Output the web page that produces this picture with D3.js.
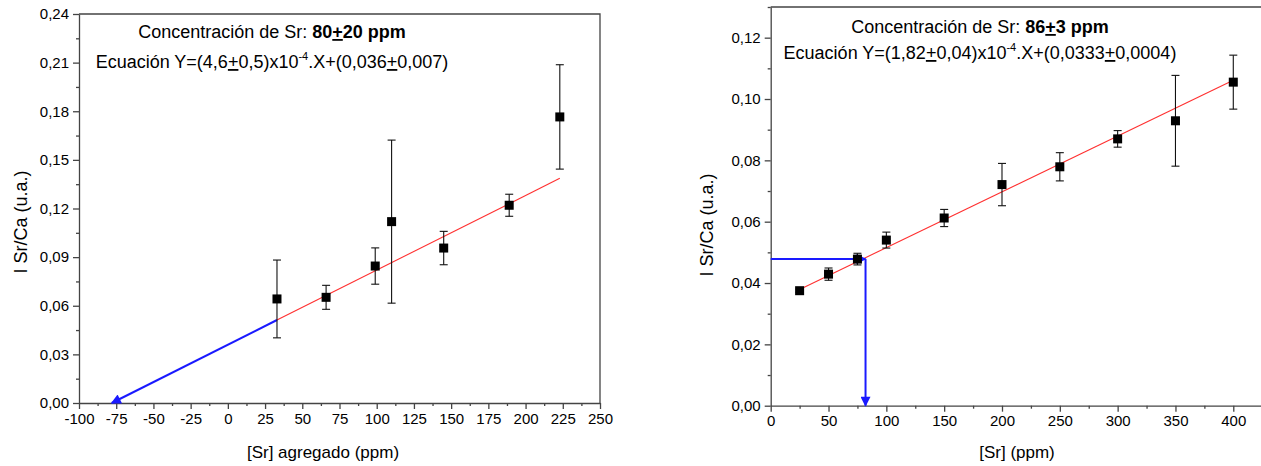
<!DOCTYPE html>
<html>
<head>
<meta charset="utf-8">
<script src="https://cdn.jsdelivr.net/npm/d3@7"></script>
<style>
  body { margin: 0; background: #fff; }
  svg { font-family: "Liberation Sans", Arial, sans-serif; }
  .axis path, .axis line { stroke: #444; stroke-width: 1.3; }
  .axis text { font-size: 15px; fill: #000; }
</style>
</head>
<body>
<svg id="chart" width="1261" height="466"></svg>
<script>
// left panel: standard additions
const leftX = [33, 66, 99, 110, 145, 189, 223];
const leftY = [0.0642, 0.0652, 0.0845, 0.1119, 0.0956, 0.1220, 0.1765];
const leftErr = [0.024, 0.0074, 0.0112, 0.0503, 0.0103, 0.0068, 0.0322];
const leftFit = [[33, 0.0512], [223, 0.1386]];
const leftArrow = [[33, 0.0512], [-78, 0]];
const leftXTicks = [-100, -75, -50, -25, 0, 25, 50, 75, 100, 125, 150, 175, 200, 225, 250];
const leftYTicks = [0, 0.03, 0.06, 0.09, 0.12, 0.15, 0.18, 0.21, 0.24];

// right panel: calibration curve
const rightX = [25, 50, 75, 100, 150, 200, 250, 300, 350, 400];
const rightY = [0.0375, 0.0429, 0.0478, 0.0540, 0.0612, 0.0721, 0.0779, 0.0870, 0.0929, 0.1055];
const rightErr = [0.0005, 0.0020, 0.0019, 0.0026, 0.0028, 0.0069, 0.0046, 0.0027, 0.0148, 0.0088];
const rightFit = [[25, 0.0379], [400, 0.1061]];
const rightArrowH = [[0, 0.0478], [82, 0.0478]];
const rightArrowV = [[82, 0.0478], [82, 0]];
const rightXTicks = [0, 50, 100, 150, 200, 250, 300, 350, 400];
const rightYTicks = [0, 0.02, 0.04, 0.06, 0.08, 0.10, 0.12];

const svg = d3.select("#chart");

const defs = svg.append("defs");
defs.append("marker")
  .attr("id", "arrow")
  .attr("viewBox", "0 0 10 10")
  .attr("refX", 9)
  .attr("refY", 5)
  .attr("markerWidth", 6)
  .attr("markerHeight", 5)
  .attr("markerUnits", "strokeWidth")
  .attr("orient", "auto")
  .append("path")
  .attr("d", "M0,0L10,5L0,10Z")
  .attr("fill", "#1a1aff");

const fmtY = d => d.toFixed(2).replace(".", ",");
const fmtX = d => String(d);

const drawPanel = opts => {
  const g = svg.append("g");
  const x = d3.scaleLinear().domain(opts.xDomain).range(opts.xRange);
  const y = d3.scaleLinear().domain(opts.yDomain).range(opts.yRange);

  // frame (top and right)
  g.append("path")
    .attr("d", `M${opts.xRange[0]},${opts.yRange[1]}H${opts.xRange[1]}V${opts.yRange[0]}`)
    .attr("fill", "none")
    .attr("stroke", "#444")
    .attr("stroke-width", 1.3);

  // minor ticks
  g.append("g")
    .attr("class", "axis")
    .attr("transform", `translate(0,${opts.yRange[0]})`)
    .call(d3.axisBottom(x).tickValues(opts.xMinor).tickSize(3).tickFormat(""))
    .call(a => a.select(".domain").remove());
  g.append("g")
    .attr("class", "axis")
    .attr("transform", `translate(${opts.xRange[0]},0)`)
    .call(d3.axisLeft(y).tickValues(opts.yMinor).tickSize(3).tickFormat(""))
    .call(a => a.select(".domain").remove());

  // major axes
  g.append("g")
    .attr("class", "axis")
    .attr("transform", `translate(0,${opts.yRange[0]})`)
    .call(d3.axisBottom(x).tickValues(opts.xTicks).tickSize(6).tickSizeOuter(0).tickPadding(4).tickFormat(fmtX));
  g.append("g")
    .attr("class", "axis")
    .attr("transform", `translate(${opts.xRange[0]},0)`)
    .call(d3.axisLeft(y).tickValues(opts.yTicks).tickSize(6).tickSizeOuter(0).tickPadding(4).tickFormat(fmtY));

  // axis titles
  g.append("text")
    .attr("x", opts.xTitlePos[0])
    .attr("y", opts.xTitlePos[1])
    .attr("text-anchor", "middle")
    .attr("font-size", 17)
    .text(opts.xTitle);
  g.append("text")
    .attr("transform", `translate(${opts.yTitlePos[0]},${opts.yTitlePos[1]}) rotate(-90)`)
    .attr("text-anchor", "middle")
    .attr("font-size", 18)
    .text("I Sr/Ca (u.a.)");

  // fit line
  const line = d3.line().x(d => x(d[0])).y(d => y(d[1]));
  g.append("path")
    .attr("d", line(opts.fit))
    .attr("fill", "none")
    .attr("stroke", "#ff3030")
    .attr("stroke-width", 1.1);

  // blue arrows
  opts.arrows.forEach(a => {
    g.append("path")
      .attr("d", line(a))
      .attr("fill", "none")
      .attr("stroke", "#1a1aff")
      .attr("stroke-width", 2)
      .attr("marker-end", "url(#arrow)");
  });

  // error bars
  const pts = opts.xs.map((v, i) => ({ x: v, y: opts.ys[i], e: opts.errs[i] }));
  const eb = g.selectAll(".err").data(pts).enter().append("g").attr("class", "err")
    .attr("stroke", "#111").attr("stroke-width", 1.1);
  eb.append("line")
    .attr("x1", d => x(d.x)).attr("x2", d => x(d.x))
    .attr("y1", d => y(d.y - d.e)).attr("y2", d => y(d.y + d.e));
  eb.append("line")
    .attr("x1", d => x(d.x) - 4).attr("x2", d => x(d.x) + 4)
    .attr("y1", d => y(d.y + d.e)).attr("y2", d => y(d.y + d.e));
  eb.append("line")
    .attr("x1", d => x(d.x) - 4).attr("x2", d => x(d.x) + 4)
    .attr("y1", d => y(d.y - d.e)).attr("y2", d => y(d.y - d.e));

  // squares
  g.selectAll(".pt").data(pts).enter().append("rect")
    .attr("class", "pt")
    .attr("x", d => x(d.x) - 4.5)
    .attr("y", d => y(d.y) - 4.5)
    .attr("width", 9)
    .attr("height", 9)
    .attr("fill", "#000");

  // annotation text
  const t1 = g.append("text")
    .attr("x", opts.noteX)
    .attr("y", opts.noteY)
    .attr("text-anchor", "middle")
    .attr("font-size", 18);
  t1.append("tspan").text("Concentración de Sr: ");
  t1.append("tspan").attr("font-weight", "bold").text(opts.conc[0]);
  t1.append("tspan").attr("font-weight", "bold").attr("text-decoration", "underline").text("+");
  t1.append("tspan").attr("font-weight", "bold").text(opts.conc[1] + " ppm");

  const t2 = g.append("text")
    .attr("x", opts.noteX)
    .attr("y", opts.noteY + opts.lineGap)
    .attr("text-anchor", "middle")
    .attr("font-size", 18);
  const eq = opts.eq;
  t2.append("tspan").text("Ecuación Y=(" + eq[0]);
  t2.append("tspan").attr("text-decoration", "underline").text("+");
  t2.append("tspan").text(eq[1] + ")x10");
  t2.append("tspan").attr("font-size", 11).attr("dy", -8).text("-4");
  t2.append("tspan").attr("dy", 8).text(".X+(" + eq[2]);
  t2.append("tspan").attr("text-decoration", "underline").text("+");
  t2.append("tspan").text(eq[3] + ")");
};

drawPanel({
  xDomain: [-100, 250], xRange: [79, 600],
  yDomain: [0, 0.24], yRange: [403, 14],
  xTicks: leftXTicks,
  xMinor: leftXTicks.slice(0, -1).map(v => v + 12.5),
  yTicks: leftYTicks,
  yMinor: leftYTicks.slice(0, -1).map(v => v + 0.015),
  xTitle: "[Sr] agregado (ppm)", xTitlePos: [323, 458],
  yTitlePos: [27, 222],
  fit: leftFit, arrows: [leftArrow],
  xs: leftX, ys: leftY, errs: leftErr,
  noteX: 272, noteY: 38, lineGap: 30,
  conc: ["80", "20"],
  eq: ["4,6", "0,5", "0,036", "0,007"]
});

drawPanel({
  xDomain: [0, 425], xRange: [770.7, 1262.2],
  yDomain: [0, 0.13], yRange: [405.7, 7],
  xTicks: rightXTicks,
  xMinor: rightXTicks.map(v => v + 25),
  yTicks: rightYTicks,
  yMinor: rightYTicks.map(v => v + 0.01),
  xTitle: "[Sr] (ppm)", xTitlePos: [1017, 458],
  yTitlePos: [713, 225],
  fit: rightFit, arrows: [rightArrowH, rightArrowV],
  xs: rightX, ys: rightY, errs: rightErr,
  noteX: 980, noteY: 33, lineGap: 26,
  conc: ["86", "3"],
  eq: ["1,82", "0,04", "0,0333", "0,0004"]
});
</script>
</body>
</html>
